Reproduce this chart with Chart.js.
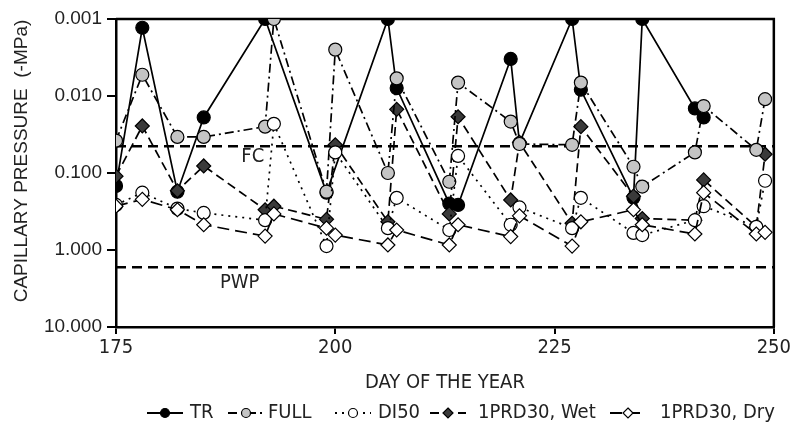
<!DOCTYPE html>
<html>
<head>
<meta charset="utf-8">
<script src="https://cdn.jsdelivr.net/npm/chart.js@4.4.0/dist/chart.umd.min.js"></script>
<style>
    html, body { margin: 0; padding: 0; background: #fff; }
    #wrap { width: 793px; height: 427px; }
</style>
</head>
<body>
<div id="wrap"><canvas id="chart" width="793" height="427"></canvas></div>
<script>
// Series data (day of year, capillary pressure in -MPa)
const seriesNames = ['TR', 'FULL', 'DI50', '1PRD30, Wet', '1PRD30, Dry'];

const trDays = [175, 178, 182, 185, 192, 199, 206, 207, 213, 214, 220, 221, 227, 228, 234, 235, 241, 242];
const trValues = [0.147, 0.0013, 0.175, 0.019, 0.001, 0.18, 0.001, 0.0079, 0.25, 0.26, 0.0033, 0.041, 0.001, 0.0083, 0.21, 0.001, 0.0145, 0.019];

const days = [175, 178, 182, 185, 192, 193, 199, 200, 206, 207, 213, 214, 220, 221, 227, 228, 234, 235, 241, 242, 248, 249];
const fullValues = [0.038, 0.0053, 0.034, 0.034, 0.025, 0.001, 0.175, 0.0025, 0.10, 0.0059, 0.13, 0.0067, 0.0215, 0.042, 0.043, 0.0067, 0.083, 0.15, 0.054, 0.0135, 0.05, 0.011];
const di50Values = [0.26, 0.18, 0.29, 0.33, 0.41, 0.023, 0.89, 0.054, 0.52, 0.21, 0.55, 0.060, 0.47, 0.28, 0.52, 0.21, 0.60, 0.64, 0.41, 0.27, 0.50, 0.126];
const wetValues = [0.11, 0.0245, 0.17, 0.081, 0.30, 0.27, 0.40, 0.043, 0.43, 0.0149, 0.34, 0.0186, 0.224, 0.04, 0.45, 0.025, 0.20, 0.39, 0.41, 0.123, 0.50, 0.057];
const dryValues = [0.27, 0.22, 0.30, 0.47, 0.66, 0.34, 0.52, 0.64, 0.86, 0.55, 0.86, 0.47, 0.67, 0.36, 0.89, 0.43, 0.30, 0.47, 0.62, 0.18, 0.62, 0.59];

// Reference levels
const fcValue = 0.045;
const pwpValue = 1.68;

// Axis ticks
const xTicks = [175, 200, 225, 250];
const yTicks = [0.001, 0.01, 0.1, 1, 10];

const narrow = "'Liberation Sans Narrow', 'Arial Narrow', 'DejaVu Sans Condensed', sans-serif";
const regular = "'Liberation Sans', Arial, sans-serif";

function toPoints(xs, ys) {
    return xs.map((d, i) => ({ x: d, y: ys[i] }));
}

// Estilos das séries (legenda: início da amostra e do texto)
const styles = [
    { dash: [], point: 'circle', fill: '#000000', radius: 6.5, order: 5, lx: 147, tx: 190 },
    { dash: [9, 4, 2, 4], point: 'circle', fill: '#c4c4c4', radius: 6.5, order: 3, lx: 228, tx: 268 },
    { dash: [2, 5], point: 'circle', fill: '#ffffff', radius: 6.5, order: 2, lx: 335, tx: 378 },
    { dash: [9, 5], point: 'rectRot', fill: '#3a3a3a', radius: 7, order: 4, lx: 430, tx: 478 },
    { dash: [12, 6], point: 'rectRot', fill: '#ffffff', radius: 7, order: 1, lx: 610, tx: 660 }
];

const dataSets = [
    toPoints(trDays, trValues),
    toPoints(days, fullValues),
    toPoints(days, di50Values),
    toPoints(days, wetValues),
    toPoints(days, dryValues)
];

const datasets = seriesNames.map((name, i) => ({
    label: name,
    data: dataSets[i],
    borderColor: '#000',
    borderWidth: 1.7,
    borderDash: styles[i].dash,
    pointStyle: styles[i].point,
    pointRadius: styles[i].radius,
    pointBackgroundColor: styles[i].fill,
    pointBorderColor: '#000',
    pointBorderWidth: 1.2,
    tension: 0,
    order: styles[i].order
}));

// Moldura, linhas FC / PWP, títulos e legenda
const decor = {
    id: 'decor',
    beforeDatasetsDraw(chart) {
        const { ctx, chartArea: a, scales: { x, y } } = chart;
        ctx.save();
        ctx.strokeStyle = '#000';
        ctx.lineWidth = 2.5;
        ctx.beginPath();
        ctx.moveTo(a.left, a.top);
        ctx.lineTo(a.right, a.top);
        ctx.lineTo(a.right, a.bottom);
        ctx.stroke();

        ctx.setLineDash([10, 6]);
        ctx.lineWidth = 2.5;
        [fcValue, pwpValue].forEach(v => {
            const py = y.getPixelForValue(v);
            ctx.beginPath();
            ctx.moveTo(a.left, py);
            ctx.lineTo(a.right, py);
            ctx.stroke();
        });
        ctx.setLineDash([]);

        ctx.fillStyle = '#222';
        ctx.font = '20px ' + narrow;
        ctx.textAlign = 'center';
        ctx.textBaseline = 'middle';
        ctx.fillText('FC', x.getPixelForValue(190.6), y.getPixelForValue(0.062));
        ctx.fillText('PWP', x.getPixelForValue(189.1), y.getPixelForValue(2.7));
        ctx.restore();
    },
    afterDraw(chart) {
        const { ctx, chartArea: a } = chart;
        ctx.save();
        ctx.fillStyle = '#222';
        ctx.textBaseline = 'middle';

        // título do eixo X
        ctx.font = '20px ' + narrow;
        ctx.textAlign = 'center';
        ctx.fillText('DAY OF THE YEAR', (a.left + a.right) / 2, 383);

        // título do eixo Y
        ctx.save();
        ctx.translate(22, 161);
        ctx.rotate(-Math.PI / 2);
        ctx.font = '19px ' + regular;
        ctx.fillText('CAPILLARY PRESSURE  (-MPa)', 0, 0);
        ctx.restore();

        // legenda
        ctx.font = '20px ' + narrow;
        ctx.textAlign = 'left';
        const ly = 413;
        const sample = 36;
        seriesNames.forEach((name, i) => {
            const st = styles[i];
            const cx = st.lx + sample / 2;
            ctx.strokeStyle = '#000';
            ctx.lineWidth = 2;
            ctx.setLineDash(st.dash);
            ctx.beginPath();
            ctx.moveTo(st.lx, ly);
            ctx.lineTo(st.lx + sample, ly);
            ctx.stroke();
            ctx.setLineDash([]);
            ctx.lineWidth = 1.2;
            ctx.fillStyle = st.fill;
            ctx.beginPath();
            if (st.point === 'circle') {
                ctx.arc(cx, ly, 4.5, 0, Math.PI * 2);
            } else {
                ctx.moveTo(cx, ly - 5);
                ctx.lineTo(cx + 5, ly);
                ctx.lineTo(cx, ly + 5);
                ctx.lineTo(cx - 5, ly);
                ctx.closePath();
            }
            ctx.fill();
            ctx.stroke();
            ctx.fillStyle = '#222';
            ctx.fillText(name, st.tx, ly);
        });
        ctx.restore();
    }
};

new Chart(document.getElementById('chart'), {
    type: 'line',
    data: { datasets: datasets },
    options: {
        responsive: false,
        animation: false,
        devicePixelRatio: 1,
        layout: { padding: { top: 19, right: 17, left: 0, bottom: 0 } },
        plugins: {
            legend: { display: false },
            tooltip: { enabled: false }
        },
        scales: {
            x: {
                type: 'linear',
                min: 175,
                max: 250,
                afterBuildTicks: s => { s.ticks = xTicks.map(v => ({ value: v })); },
                afterFit: s => { s.height = 100; },
                ticks: {
                    color: '#222',
                    font: { size: 20, family: narrow },
                    padding: 2,
                    maxRotation: 0
                },
                grid: { drawOnChartArea: false, tickLength: 7, color: '#000', lineWidth: 2 },
                border: { color: '#000', width: 2.5 }
            },
            y: {
                type: 'logarithmic',
                reverse: true,
                min: 0.001,
                max: 10,
                afterBuildTicks: s => { s.ticks = yTicks.map(v => ({ value: v })); },
                afterFit: s => { s.width = 116; },
                ticks: {
                    color: '#222',
                    font: { size: 19, family: regular },
                    padding: 5,
                    callback: v => Number(v).toFixed(3)
                },
                grid: { drawOnChartArea: false, tickLength: 9, color: '#000', lineWidth: 2 },
                border: { color: '#000', width: 2.5 }
            }
        }
    },
    plugins: [decor]
});
</script>
</body>
</html>
